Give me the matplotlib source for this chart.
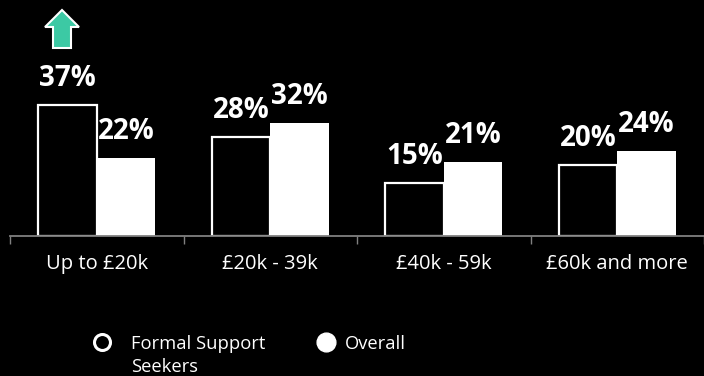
import matplotlib
matplotlib.use('Agg')
import matplotlib.pyplot as plt
from matplotlib.patches import Polygon
from matplotlib.transforms import IdentityTransform
import numpy as np

categories = ["Up to £20k", "£20k - 39k", "£40k - 59k", "£60k and more"]
formal = [37, 28, 15, 20]
overall = [22, 32, 21, 24]
series_names = ["Formal Support\nSeekers", "Overall"]

plt.rcParams['font.family'] = ['Open Sans', 'DejaVu Sans']

W, H = 704, 376
fig = plt.figure(figsize=(W / 100, H / 100), dpi=100, facecolor='black')
ax = fig.add_axes([10 / W, 140 / H, 1 - 10 / W, 1 - 140 / H])
ax.set_facecolor('black')

x = np.arange(len(categories))
w = 0.337
b1 = ax.bar(x - w / 2, formal, w, color='black', edgecolor='white', linewidth=1.6, zorder=2)
b2 = ax.bar(x + w / 2, overall, w, color='white', edgecolor='white', linewidth=0, zorder=2)

for bars, vals in ((b1, formal), (b2, overall)):
    for r, v in zip(bars, vals):
        ax.annotate(f"{v}%", (r.get_x() + r.get_width() / 2, v), xytext=(0, 13.5),
                    textcoords='offset points', ha='center', va='baseline',
                    color='white', fontsize=20, fontweight='bold')

ax.set_xlim(-0.5, -0.5 + (W - 10) / 175)
ax.set_ylim(0, 236 / 3.54)
for s in ['top', 'right', 'left']:
    ax.spines[s].set_visible(False)
ax.spines['bottom'].set_color('#808080')
ax.spines['bottom'].set_linewidth(1.3)
ax.spines['bottom'].set_zorder(3)
ax.set_yticks([])
ax.set_xticks(np.arange(len(categories) + 1) - 0.5)
ax.set_xticklabels([])
ax.tick_params(axis='x', which='major', length=6, width=1, color='#808080', direction='out')
ax.set_xticks(x, minor=True)
ax.set_xticklabels(categories, minor=True)
ax.tick_params(axis='x', which='minor', length=0, pad=13, labelsize=14.5, labelcolor='white')

# green up-arrow above the first group
cx = 62
top = H - 10
verts = [(cx, top), (cx + 17, top - 17), (cx + 9, top - 17), (cx + 9, top - 38),
         (cx - 9, top - 38), (cx - 9, top - 17), (cx - 17, top - 17)]
fig.patches.append(Polygon(verts, closed=True, facecolor='#3cc9a4', edgecolor='white',
                           linewidth=1.5, transform=IdentityTransform(), figure=fig))

# legend, drawn by hand so the marker sits on the first text line
row_y = 1 - 342 / H
fig.add_artist(plt.Line2D([102 / W], [row_y], marker='o', markersize=11.5, markerfacecolor='black',
                          markeredgecolor='white', markeredgewidth=2.2, transform=fig.transFigure))
fig.add_artist(plt.Line2D([326 / W], [row_y], marker='o', markersize=13.5, markerfacecolor='white',
                          markeredgecolor='white', transform=fig.transFigure))
fig.text(131 / W, 1 - 335 / H, series_names[0], color='white', fontsize=13.2, ha='left', va='top',
         linespacing=1.38)
fig.text(345 / W, 1 - 335 / H, series_names[1], color='white', fontsize=13.2, ha='left', va='top')

fig.savefig('out.png', dpi=100, facecolor='black')
